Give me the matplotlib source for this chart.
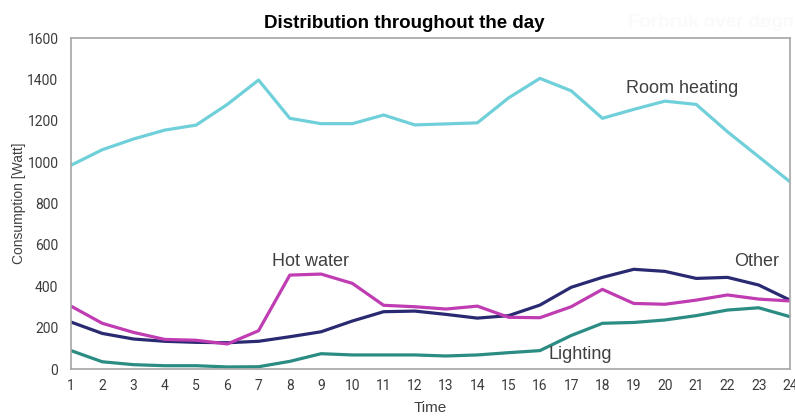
import matplotlib.pyplot as plt

# hourly consumption per category (Watt)
hours = list(range(1, 25))
room_heating = [985, 1060, 1112, 1155, 1179, 1279, 1397, 1212, 1186, 1186, 1228, 1180,
                1185, 1190, 1311, 1405, 1345, 1212, 1255, 1295, 1279, 1147, 1026, 905]
other = [227, 172, 145, 134, 129, 127, 134, 156, 180, 232, 277, 280,
         264, 246, 258, 309, 395, 443, 482, 472, 438, 443, 406, 333]
hot_water = [304, 221, 177, 143, 139, 121, 185, 454, 459, 414, 308, 301,
             290, 304, 250, 248, 301, 385, 317, 313, 333, 358, 338, 329]
lighting = [89, 35, 21, 16, 16, 10, 11, 37, 74, 68, 68, 68,
            63, 68, 79, 89, 162, 221, 225, 237, 258, 285, 296, 253]

yticks = [0, 200, 400, 600, 800, 1000, 1200, 1400, 1600]

fig = plt.figure(figsize=(7.95, 4.18), dpi=100)
ax = fig.add_axes([0.0893, 0.1172, 0.9044, 0.7918])

lw = 2.3
ax.plot(hours, room_heating, color='#6fd0da', lw=lw)
ax.plot(hours, other, color='#2a2a72', lw=lw)
ax.plot(hours, hot_water, color='#bf3cb2', lw=lw)
ax.plot(hours, lighting, color='#2b8c84', lw=lw)

ax.set_xlim(1, 24)
ax.set_ylim(0, 1600)
ax.set_xticks(hours)
ax.set_yticks(yticks)

tick_font = dict(family='Roboto', size=10, color='#3c3c3c')
ax.set_xticklabels([str(h) for h in hours], **tick_font)
ax.set_yticklabels([str(v) for v in yticks], **tick_font)
ax.tick_params(axis='both', length=0)
ax.tick_params(axis='x', pad=7)
ax.tick_params(axis='y', pad=9)

for s in ax.spines.values():
    s.set_color('#a6a6a6')
    s.set_linewidth(1.2)

ax.set_xlabel('Time', family='Liberation Sans', fontsize=11, color='#404040', labelpad=6)
ax.set_ylabel('Consumption [Watt]', family='Liberation Sans', fontsize=10,
              color='#404040', va='center')
ax.yaxis.set_label_coords(-0.073, 0.5)

lab = dict(family='Liberation Sans', fontsize=13, color='#404040', ha='center', va='center')
ax.text(20.55, 1358, 'Room heating', **lab)
ax.text(8.65, 518, 'Hot water', **lab)
ax.text(22.94, 518, 'Other', **lab)
ax.text(17.3, 72, 'Lighting', **lab)

fig.text(0.508, 0.943, 'Distribution throughout the day', family='Liberation Sans',
         weight='bold', fontsize=13.5, ha='center', va='center', color='black')
fig.text(0.895, 0.945, 'Forbruk over døgn', family='Liberation Sans', weight='bold',
         fontsize=13.5, ha='center', va='center', color='#fafafa')

fig.savefig('out.png', dpi=100)
